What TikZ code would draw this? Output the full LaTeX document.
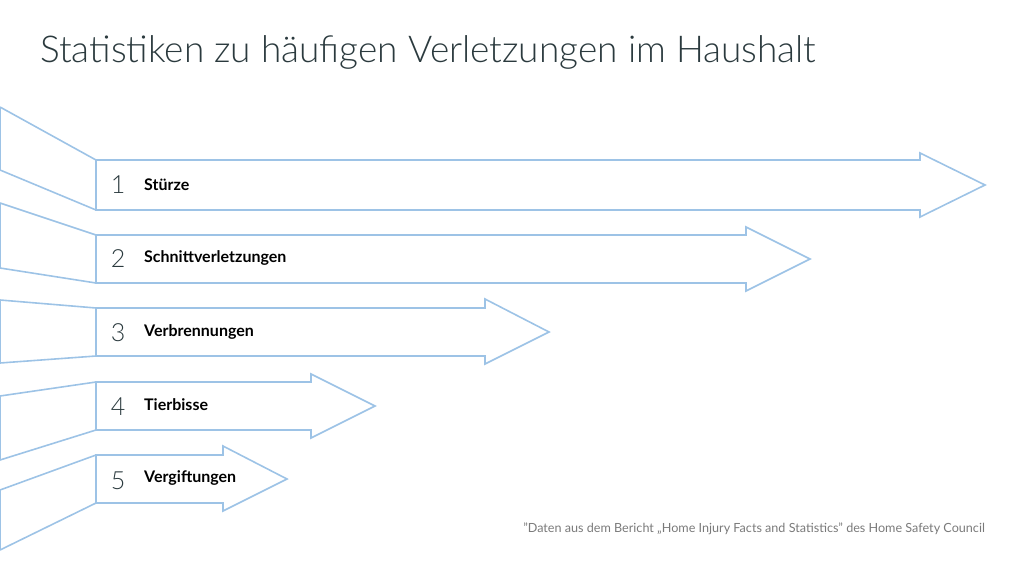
\documentclass[tikz,border=0pt]{standalone}
\usepackage{fontspec}
\setmainfont{Lato}
\newfontfamily\lightfont{Lato Light}
\definecolor{arrowblue}{HTML}{9DC3E6}
\definecolor{titlegrey}{HTML}{2B3A3E}
\definecolor{notegrey}{HTML}{7A7A7A}
\begin{document}
\begin{tikzpicture}[x=1pt,y=-1pt,
  outline/.style={draw=arrowblue, line width=1.6pt, line join=miter},
  numlabel/.style={font=\lightfont\fontsize{25}{25}\selectfont, text=titlegrey, anchor=center, inner sep=0pt},
  itemlabel/.style={font=\bfseries\fontsize{16}{18}\selectfont, text=black, anchor=west, inner sep=0pt}]
\useasboundingbox (0,0) rectangle (1024,576);

\node[font=\lightfont\fontsize{37}{40}\selectfont, text=titlegrey, anchor=base west, inner sep=0pt]
  (title) at (40,62) {Statistiken zu häufigen Verletzungen im Haushalt};

% #1 flap top, #2 flap bottom, #3 body top, #4 body bottom,
% #5 head x, #6 head top, #7 head bottom, #8 tip x, #9 centre y
\newcommand{\bararrow}[9]{%
  \draw[outline] (0,#1) -- (96,#3) (0,#2) -- (96,#4) (0,#1) -- (0,#2);
  \draw[outline] (96,#3) -- (#5,#3) -- (#5,#6) -- (#8,#9) -- (#5,#7) -- (#5,#4) -- (96,#4) -- cycle;
}

\bararrow{107}{170}{160}{210}{920}{153}{217}{985}{185}
\bararrow{203}{268}{235}{283}{746}{227}{291}{810}{259}
\bararrow{300}{363}{308}{356}{485}{299}{364}{549}{332}
\bararrow{396}{460}{382}{430}{311}{374}{438}{375}{406}
\bararrow{490}{550}{455}{503}{223}{446}{511}{287}{479}

\node[numlabel] (n1) at (118,185) {1};
\node[itemlabel] (l1) at (144,185) {Stürze};
\node[numlabel] (n2) at (118,259) {2};
\node[itemlabel] (l2) at (144,258) {Schnittverletzungen};
\node[numlabel] (n3) at (118,333) {3};
\node[itemlabel] (l3) at (144,332) {Verbrennungen};
\node[numlabel] (n4) at (118,407) {4};
\node[itemlabel] (l4) at (144,405) {Tierbisse};
\node[numlabel] (n5) at (118,481) {5};
\node[itemlabel] (l5) at (144,478) {Vergiftungen};

\node[font=\fontsize{12.6}{14}\selectfont, text=notegrey, anchor=base east, inner sep=0pt]
  (note) at (985,532) {"Daten aus dem Bericht „Home Injury Facts and Statistics" des Home Safety Council};
\end{tikzpicture}
\end{document}
